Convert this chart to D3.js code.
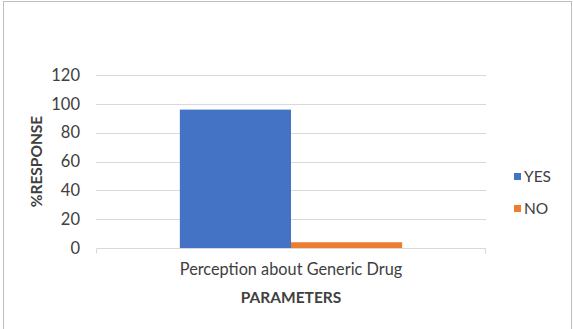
<!DOCTYPE html>
<html>
<head>
<meta charset="utf-8">
<script src="https://cdn.jsdelivr.net/npm/d3@7"></script>
<style>
	body { margin: 0; background: #fff; }
	text { font-family: Lato, "Open Sans", sans-serif; fill: #404040; }
</style>
</head>
<body>
<div id="chart"></div>
<script>
var categories = ["Perception about Generic Drug"];
var seriesNames = ["YES", "NO"];
var yesValues = [96];
var noValues = [4];
var yTicks = [0, 20, 40, 60, 80, 100, 120];
var colors = ["#4472c4", "#ed7d31"];

var W = 573, H = 329;
var margin = {top: 75, right: 87, bottom: 81, left: 96};
var width = W - margin.left - margin.right;
var height = H - margin.top - margin.bottom;

var svg = d3.select("#chart").append("svg")
	.attr("width", W)
	.attr("height", H);

// outer chart border
svg.append("rect")
	.attr("x", 3.5).attr("y", 1.5)
	.attr("width", 568).attr("height", 330)
	.attr("fill", "none")
	.attr("stroke", "#bfbfbf");

var g = svg.append("g").attr("transform", "translate(" + margin.left + "," + margin.top + ")");

var x0 = d3.scaleBand().domain(categories).range([0, width]).paddingInner(0).paddingOuter(0);
var x1 = d3.scaleBand().domain(seriesNames).range([x0.bandwidth() * 0.215, x0.bandwidth() * 0.785]);
var y = d3.scaleLinear().domain([0, 120]).range([height, 0]);

// gridlines
g.append("g")
	.selectAll("line")
	.data(yTicks.slice(1))
	.enter().append("line")
	.attr("x1", 0).attr("x2", width)
	.attr("y1", function(d) { return Math.round(y(d)) + 0.5; })
	.attr("y2", function(d) { return Math.round(y(d)) + 0.5; })
	.attr("stroke", "#d9d9d9")
	.attr("stroke-width", 1);

// y axis labels
var axisLeft = d3.axisLeft(y).tickValues(yTicks).tickSize(0).tickPadding(16);
var yAxis = g.append("g").call(axisLeft);
yAxis.select(".domain").remove();
yAxis.selectAll("text").style("font-size", "16.5px").attr("fill", "#404040");

// bars
var data = categories.map(function(c, i) {
	return [{key: "YES", value: yesValues[i], cat: c}, {key: "NO", value: noValues[i], cat: c}];
});
g.selectAll(".cat")
	.data(data)
	.enter().append("g")
	.attr("transform", function(d, i) { return "translate(" + x0(categories[i]) + ",0)"; })
	.selectAll("rect")
	.data(function(d) { return d; })
	.enter().append("rect")
	.attr("x", function(d) { return x1(d.key); })
	.attr("width", x1.bandwidth())
	.attr("y", function(d) { return y(d.value); })
	.attr("height", function(d) { return height - y(d.value); })
	.attr("fill", function(d, i) { return colors[i]; });

// x axis
var axisBottom = d3.axisBottom(x0).tickSize(0).tickPadding(15);
var xAxis = g.append("g")
	.attr("transform", "translate(0," + (Math.round(height) + 0.5) + ")")
	.call(axisBottom);
xAxis.select(".domain").attr("stroke", "#d9d9d9").attr("d", "M0.5,5V0H" + (width - 0.5) + "V5");
xAxis.selectAll("text").style("font-size", "16.3px").attr("fill", "#404040");

// axis titles
svg.append("text")
	.attr("transform", "translate(42," + (margin.top + height / 2) + ") rotate(-90)")
	.attr("text-anchor", "middle")
	.style("font-size", "15.5px")
	.style("font-weight", "bold")
	.attr("fill", "#262626")
	.text("%RESPONSE");

svg.append("text")
	.attr("x", margin.left + width / 2)
	.attr("y", 303)
	.attr("text-anchor", "middle")
	.style("font-size", "15.5px")
	.style("font-weight", "bold")
	.attr("fill", "#262626")
	.text("PARAMETERS");

// legend
var legend = svg.append("g").attr("transform", "translate(514,173)");
var items = legend.selectAll("g")
	.data(seriesNames)
	.enter().append("g")
	.attr("transform", function(d, i) { return "translate(0," + (i * 32) + ")"; });
items.append("rect")
	.attr("width", 7).attr("height", 7)
	.attr("fill", function(d, i) { return colors[i]; });
items.append("text")
	.attr("x", 10).attr("y", 9)
	.style("font-size", "15.5px")
	.attr("fill", "#404040")
	.text(function(d) { return d; });
</script>
</body>
</html>
